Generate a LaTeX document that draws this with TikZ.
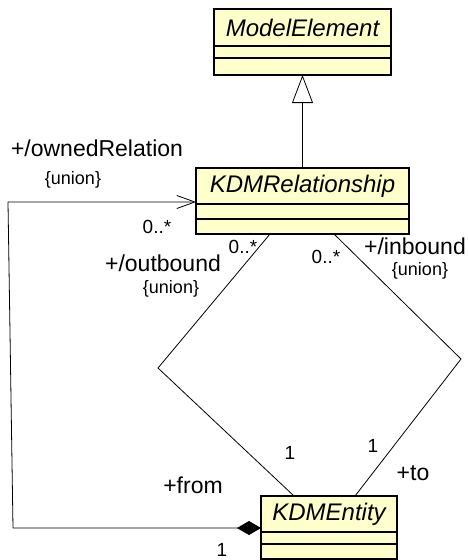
\documentclass[tikz,border=0pt]{standalone}
\usepackage{fontspec}
\setmainfont{Liberation Sans}
\usepackage{tikz}
\usetikzlibrary{positioning,arrows.meta}
\definecolor{classfill}{RGB}{255,255,204}
\tikzset{
  cls/.style={draw, fill=classfill, line width=1.2pt, outer sep=0pt, inner sep=0pt,
    font=\fontsize{24pt}{28pt}\selectfont\itshape},
  comp/.style={draw, fill=classfill, line width=1.2pt, outer sep=0pt, inner sep=0pt},
  lbl/.style={font=\fontsize{23pt}{27pt}\selectfont, inner sep=0pt},
  mult/.style={font=\fontsize{19pt}{22pt}\selectfont, inner sep=0pt},
  cons/.style={font=\fontsize{18pt}{21pt}\selectfont, inner sep=0pt},
  assoc/.style={line width=0.8pt}
}

\begin{document}
\begin{tikzpicture}[x=1pt,y=-1pt]
          \useasboundingbox (0,0) rectangle (467,560);
          \node[cls, minimum width=177pt, minimum height=37pt] (ME) at (302.5,27.5) {ModelElement};
          \node[comp, minimum width=177pt, minimum height=12pt, below=0pt of ME] (ME-a) {};
          \node[comp, minimum width=177pt, minimum height=17pt, below=0pt of ME-a] (ME-b) {};
          \node[cls, minimum width=213pt, minimum height=36pt] (KR) at (302.5,186) {KDMRelationship};
          \node[comp, minimum width=213pt, minimum height=15pt, below=0pt of KR] (KR-a) {};
          \node[comp, minimum width=213pt, minimum height=15pt, below=0pt of KR-a] (KR-b) {};
          \node[cls, minimum width=136pt, minimum height=36pt] (KE) at (329,514) {KDMEntity};
          \node[comp, minimum width=136pt, minimum height=12pt, below=0pt of KE] (KE-a) {};
          \node[comp, minimum width=136pt, minimum height=15pt, below=0pt of KE-a] (KE-b) {};
          \coordinate (own1) at (8,202);
          \coordinate (own2) at (13,528);
          \coordinate (outv) at (158,368);
          \coordinate (inv) at (461,359);
          \draw[assoc, -{Triangle[open, length=28pt, width=21pt]}] (KR.north) -- (ME-b.south);
          \draw[assoc, {Diamond[length=24pt, width=14pt]}-{Straight Barb[length=18pt, width=13pt]}]
            ([yshift=-14pt]KE.west) -- (own2) -- (own1) -- (own1 -| KR.west);
          \draw[assoc] ([xshift=-32.5pt]KR-b.south) -- (outv) -- ([xshift=-35pt]KE.north);
          \draw[assoc] ([xshift=31.5pt]KR-b.south) -- (inv) -- ([xshift=26pt]KE.north);
          \node[lbl] (ownName) at (97,148) {+/ownedRelation};
          \node[cons] (ownCons) at (73,180) {\{union\}};
          \node[mult] (ownMult) at (157,227) {0..*};
          \node[lbl] (outName) at (163,263) {+/outbound};
          \node[cons] (outCons) at (171,289) {\{union\}};
          \node[mult] (outMult) at (243,247) {0..*};
          \node[mult] (inMult) at (326,257) {0..*};
          \node[lbl] (inName) at (415,246) {+/inbound};
          \node[cons] (inCons) at (420,271) {\{union\}};
          \node[mult] (fromMult) at (290,453) {1};
          \node[mult] (toMult) at (373,446) {1};
          \node[lbl] (fromName) at (193,485) {+from};
          \node[lbl] (toName) at (413,473) {+to};
          \node[mult] (entMult) at (222,550) {1};
        \end{tikzpicture}
\end{document}
